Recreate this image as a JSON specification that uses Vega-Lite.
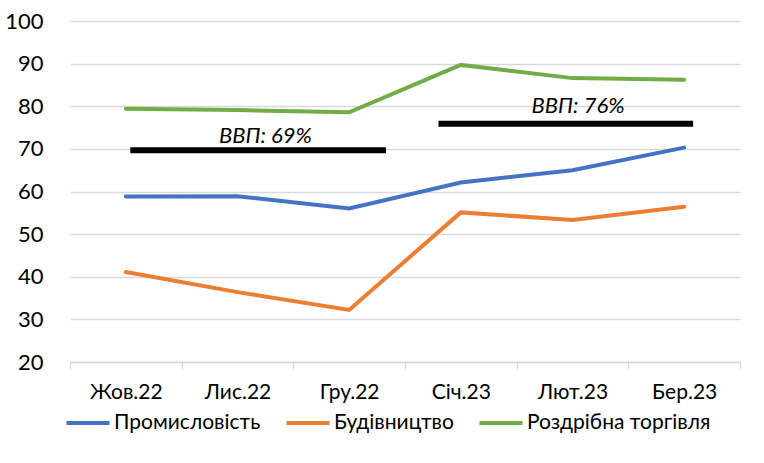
{
  "$schema": "https://vega.github.io/schema/vega-lite/v6.json",
  "width": 670,
  "height": 341,
  "autosize": "none",
  "padding": {"left": 70, "top": 21, "right": 24, "bottom": 101},
  "background": "white",
  "config": {"font": "Lato", "view": {"stroke": null}},
  "datasets": {
    "series": [
      {"month": "Жов.22", "series": "Промисловість", "value": 58.8},
      {"month": "Лис.22", "series": "Промисловість", "value": 58.9},
      {"month": "Гру.22", "series": "Промисловість", "value": 56.0},
      {"month": "Січ.23", "series": "Промисловість", "value": 62.1},
      {"month": "Лют.23", "series": "Промисловість", "value": 65.0},
      {"month": "Бер.23", "series": "Промисловість", "value": 70.3},
      {"month": "Жов.22", "series": "Будівництво", "value": 41.1},
      {"month": "Лис.22", "series": "Будівництво", "value": 36.4},
      {"month": "Гру.22", "series": "Будівництво", "value": 32.2},
      {"month": "Січ.23", "series": "Будівництво", "value": 55.1},
      {"month": "Лют.23", "series": "Будівництво", "value": 53.3},
      {"month": "Бер.23", "series": "Будівництво", "value": 56.4},
      {"month": "Жов.22", "series": "Роздрібна торгівля", "value": 79.4},
      {"month": "Лис.22", "series": "Роздрібна торгівля", "value": 79.1},
      {"month": "Гру.22", "series": "Роздрібна торгівля", "value": 78.6},
      {"month": "Січ.23", "series": "Роздрібна торгівля", "value": 89.7},
      {"month": "Лют.23", "series": "Роздрібна торгівля", "value": 86.6},
      {"month": "Бер.23", "series": "Роздрібна торгівля", "value": 86.2}
    ],
    "gdp": [
      {"from": "Жов.22", "to": "Гру.22", "value": 69.7, "label": "ВВП: 69%", "labelAt": "Лис.22", "labelY": 71.3},
      {"from": "Січ.23", "to": "Бер.23", "value": 75.9, "label": "ВВП: 76%", "labelAt": "Лют.23", "labelY": 78.3}
    ]
  },
  "layer": [
    {
      "data": {"name": "series"},
      "mark": {"type": "line", "strokeWidth": 4, "strokeCap": "round"},
      "encoding": {
        "x": {
          "field": "month",
          "type": "ordinal",
          "title": null,
          "scale": {"domain": ["Жов.22", "Лис.22", "Гру.22", "Січ.23", "Лют.23", "Бер.23"], "paddingInner": 0, "paddingOuter": 0},
          "axis": {
            "title": null,
            "labelAngle": 0,
            "labelFontSize": 21,
            "labelColor": "#000",
            "domainColor": "#d9d9d9",
            "domainWidth": 1.3,
            "tickColor": "#d9d9d9",
            "tickWidth": 1.3,
            "tickSize": 7,
            "tickBand": "extent",
            "labelPadding": 12,
            "grid": false
          }
        },
        "y": {
          "field": "value",
          "type": "quantitative",
          "title": null,
          "scale": {"domain": [20, 100]},
          "axis": {
            "title": null,
            "values": [20, 30, 40, 50, 60, 70, 80, 90, 100],
            "labelFontSize": 22,
            "labelColor": "#000",
            "labelPadding": 27,
            "ticks": false,
            "domain": false,
            "gridColor": "#d9d9d9",
            "gridWidth": 1.3
          }
        },
        "color": {
          "field": "series",
          "type": "nominal",
          "scale": {
            "domain": ["Промисловість", "Будівництво", "Роздрібна торгівля"],
            "range": ["#4472C4", "#ED7D31", "#70AD47"]
          },
          "legend": {
            "title": null,
            "orient": "none",
            "direction": "horizontal",
            "legendX": -6,
            "legendY": 378,
            "symbolType": "stroke",
            "symbolStrokeWidth": 4,
            "symbolSize": 1850,
            "labelFontSize": 21,
            "labelColor": "#000",
            "labelLimit": 0,
            "labelOffset": 2,
            "columnPadding": 17
          }
        }
      }
    },
    {
      "data": {"name": "gdp"},
      "transform": [{"filter": "datum.from == 'Жов.22'"}],
      "layer": [
        {
          "mark": {"type": "rule", "strokeWidth": 6, "color": "#000"},
          "encoding": {
            "x": {"field": "from", "type": "ordinal", "title": null, "bandPosition": 0.54},
            "x2": {"field": "to", "bandPosition": 0.83},
            "y": {"field": "value", "type": "quantitative", "title": null}
          }
        },
        {
          "mark": {"type": "text", "fontSize": 22, "fontStyle": "italic", "color": "#000", "align": "center", "baseline": "alphabetic"},
          "encoding": {
            "x": {"field": "labelAt", "type": "ordinal", "title": null, "bandPosition": 0.75},
            "y": {"field": "labelY", "type": "quantitative", "title": null},
            "text": {"field": "label"}
          }
        }
      ]
    },
    {
      "data": {"name": "gdp"},
      "transform": [{"filter": "datum.from == 'Січ.23'"}],
      "layer": [
        {
          "mark": {"type": "rule", "strokeWidth": 6, "color": "#000"},
          "encoding": {
            "x": {"field": "from", "type": "ordinal", "title": null, "bandPosition": 0.3},
            "x2": {"field": "to", "bandPosition": 0.58},
            "y": {"field": "value", "type": "quantitative", "title": null}
          }
        },
        {
          "mark": {"type": "text", "fontSize": 22, "fontStyle": "italic", "color": "#000", "align": "center", "baseline": "alphabetic"},
          "encoding": {
            "x": {"field": "labelAt", "type": "ordinal", "title": null, "bandPosition": 0.55},
            "y": {"field": "labelY", "type": "quantitative", "title": null},
            "text": {"field": "label"}
          }
        }
      ]
    }
  ]
}
